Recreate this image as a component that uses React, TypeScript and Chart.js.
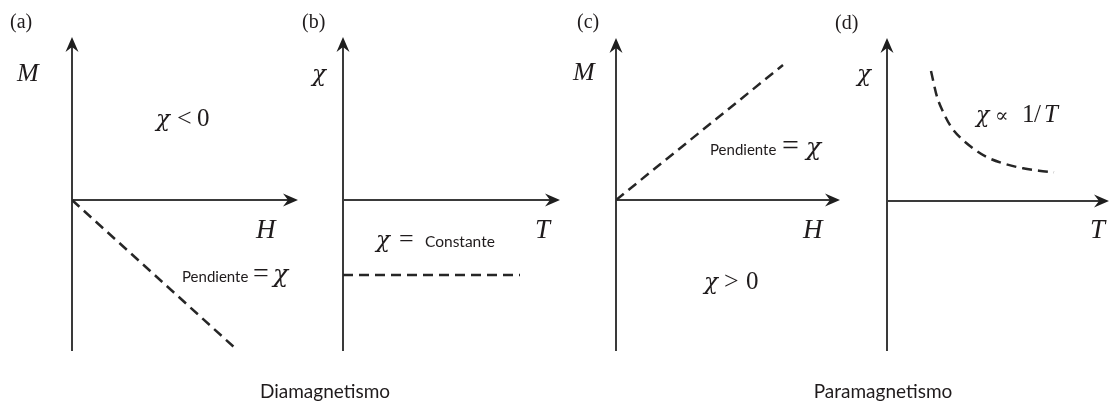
import React, { useEffect, useRef } from "react";
import { Chart, registerables } from "chart.js";

Chart.register(...registerables);

// (a) Diamagnetism: magnetisation M against field H (axis units)
const diaFieldH = [0, 16.3];
const diaMagM = [0, -14.8];

// (b) Diamagnetism: susceptibility χ against temperature T (constant, negative)
const diaTempT = [0, 17.7];
const diaChi = [-7.5, -7.5];

// (c) Paramagnetism: magnetisation M against field H
const paraFieldH = [0, 16.7];
const paraMagM = [0, 13.5];

// (d) Paramagnetism: susceptibility χ against temperature T (Curie law)
const paraTempT = [4.4, 5.0, 5.6, 6.4, 7.4, 8.6, 9.9, 11.6, 13.6, 15.2, 16.7];
const paraChi = [13.0, 10.43, 8.93, 7.43, 6.27, 5.27, 4.43, 3.77, 3.27, 3.03, 2.87];

const W = 1110;
const H = 407;
const SERIF = '"Liberation Serif", "DejaVu Serif", serif';
const GREEK = '"DejaVu Serif", "Liberation Serif", serif';
const SANS = 'Lato, "Open Sans", sans-serif';
const INK = "#1f1b1c";
const AXIS = "#3a3a3a";

type Part = [string, string, number];
type Label = { y: number; parts: Part[]; center?: boolean };

type PanelSpec = {
  box: { left: number; top: number; right: number; bottom: number };
  range: { xMax: number; yMin: number; yMax: number };
  xs: number[];
  ys: number[];
  smooth?: boolean;
  labels: Label[];
};

const ital = (size: number) => `italic ${size}px ${SERIF}`;
const chi = (size: number) => `italic ${size}px ${GREEK}`;
const rom = (size: number) => `${size}px ${SERIF}`;
const sym = (size: number) => `${size}px ${GREEK}`;
const sans = (size: number) => `${size}px ${SANS}`;

const panels: PanelSpec[] = [
  {
    box: { left: 72, top: 37, right: 298, bottom: 351 },
    range: { xMax: 22.6, yMin: -15.1, yMax: 16.3 },
    xs: diaFieldH,
    ys: diaMagM,
    labels: [
      { y: 28, parts: [["(a)", rom(20), 10]] },
      { y: 81, parts: [["M", ital(26), 17]] },
      { y: 126, parts: [["χ", chi(23), 156], ["<", rom(26), 177], ["0", rom(25), 197]] },
      { y: 238, parts: [["H", ital(27), 256]] },
      { y: 282, parts: [["Pendiente", sans(15), 182], ["=", rom(28), 253], ["χ", chi(25), 273]] },
      { y: 398, center: true, parts: [["Diamagnetismo", sans(19), 325]] },
    ],
  },
  {
    box: { left: 343, top: 37, right: 560, bottom: 351 },
    range: { xMax: 21.7, yMin: -15.1, yMax: 16.3 },
    xs: diaTempT,
    ys: diaChi,
    labels: [
      { y: 28, parts: [["(b)", rom(20), 302]] },
      { y: 81, parts: [["χ", chi(23), 312]] },
      { y: 247, parts: [["χ", chi(23), 376], ["=", rom(26), 399], ["Constante", sans(15.5), 425]] },
      { y: 238, parts: [["T", ital(27), 535]] },
    ],
  },
  {
    box: { left: 616, top: 38, right: 840, bottom: 351 },
    range: { xMax: 22.4, yMin: -15.1, yMax: 16.2 },
    xs: paraFieldH,
    ys: paraMagM,
    labels: [
      { y: 28, parts: [["(c)", rom(20), 577]] },
      { y: 80, parts: [["M", ital(26), 573]] },
      { y: 155, parts: [["Pendiente", sans(15), 710], ["=", rom(30), 782], ["χ", chi(25), 806]] },
      { y: 238, parts: [["H", ital(27), 803]] },
      { y: 289, parts: [["χ", chi(23), 704], [">", rom(26), 724], ["0", rom(25), 746]] },
      { y: 398, center: true, parts: [["Paramagnetismo", sans(19), 883]] },
    ],
  },
  {
    box: { left: 887, top: 38, right: 1109, bottom: 351 },
    range: { xMax: 22.2, yMin: -15.0, yMax: 16.3 },
    xs: paraTempT,
    ys: paraChi,
    smooth: true,
    labels: [
      { y: 29, parts: [["(d)", rom(20), 835]] },
      { y: 81, parts: [["χ", chi(23), 857]] },
      {
        y: 122,
        parts: [
          ["χ", chi(22), 976],
          ["∝", sym(20), 995],
          ["1", rom(25), 1022],
          ["/", rom(25), 1034],
          ["T", ital(25), 1044],
        ],
      },
      { y: 238, parts: [["T", ital(27), 1090]] },
    ],
  },
];

// Filled arrow head with a slightly swept-back base, pointing along (dx, dy)
function arrowHead(ctx: CanvasRenderingContext2D, x: number, y: number, dx: number, dy: number) {
  const len = 15;
  const half = 6.5;
  const notch = 10;
  const px = -dy;
  const py = dx;
  ctx.beginPath();
  ctx.moveTo(x, y);
  ctx.lineTo(x - dx * len + px * half, y - dy * len + py * half);
  ctx.lineTo(x - dx * notch, y - dy * notch);
  ctx.lineTo(x - dx * len - px * half, y - dy * len - py * half);
  ctx.closePath();
  ctx.fill();
}

const axesPlugin = {
  id: "arrowAxes",
  beforeDatasetsDraw(chart: any) {
    const { ctx, chartArea, scales } = chart;
    const x0 = scales.x.getPixelForValue(0);
    const y0 = scales.y.getPixelForValue(0);
    ctx.save();
    ctx.strokeStyle = AXIS;
    ctx.fillStyle = "#1e1e1e";
    ctx.lineWidth = 2;
    ctx.beginPath();
    ctx.moveTo(x0, chartArea.bottom);
    ctx.lineTo(x0, chartArea.top + 10);
    ctx.moveTo(x0, y0);
    ctx.lineTo(chartArea.right - 10, y0);
    ctx.stroke();
    arrowHead(ctx, x0, chartArea.top, 0, -1);
    arrowHead(ctx, chartArea.right, y0, 1, 0);
    ctx.restore();
  },
  afterDraw(chart: any, _args: any, opts: any) {
    const labels: Label[] = opts.labels || [];
    const ctx = chart.ctx as CanvasRenderingContext2D;
    ctx.save();
    ctx.fillStyle = INK;
    ctx.textBaseline = "alphabetic";
    for (const lab of labels) {
      for (const [text, font, x] of lab.parts) {
        ctx.font = font;
        ctx.textAlign = lab.center ? "center" : "left";
        ctx.fillText(text, x, lab.y);
      }
    }
    ctx.restore();
  },
};

function Panel({ spec }: { spec: PanelSpec }) {
  const ref = useRef<HTMLCanvasElement>(null);
  useEffect(() => {
    if (!ref.current) return;
    const { box, range } = spec;
    const chart = new Chart(ref.current, {
      type: "line",
      data: {
        datasets: [
          {
            data: spec.xs.map((x, i) => ({ x, y: spec.ys[i] })),
            borderColor: "#262626",
            borderWidth: 2.5,
            borderDash: [10, 6],
            pointRadius: 0,
            fill: false,
            cubicInterpolationMode: spec.smooth ? "monotone" : "default",
          },
        ],
      },
      options: {
        animation: false,
        responsive: false,
        events: [],
        layout: {
          padding: {
            left: box.left,
            top: box.top,
            right: W - box.right,
            bottom: H - box.bottom,
          },
        },
        scales: {
          x: { type: "linear", display: false, min: 0, max: range.xMax },
          y: { type: "linear", display: false, min: range.yMin, max: range.yMax },
        },
        plugins: {
          legend: { display: false },
          tooltip: { enabled: false },
          arrowAxes: { labels: spec.labels },
        } as any,
      },
      plugins: [axesPlugin],
    });
    return () => chart.destroy();
  }, [spec]);
  return (
    <canvas
      ref={ref}
      width={W}
      height={H}
      style={{ position: "absolute", left: 0, top: 0, width: W, height: H }}
    />
  );
}

export default function App() {
  return (
    <div style={{ position: "absolute", left: 0, top: 0, width: W, height: H, background: "#fff" }}>
      {panels.map((p, i) => (
        <Panel key={i} spec={p} />
      ))}
    </div>
  );
}
